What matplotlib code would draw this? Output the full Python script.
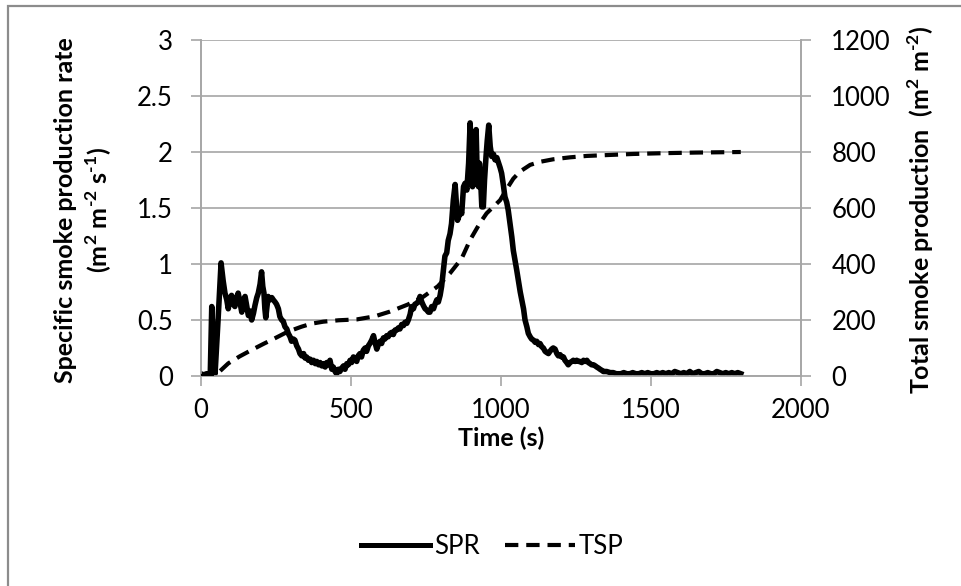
"""Smoke production rate (SPR) and total smoke production (TSP) vs time."""

import matplotlib

matplotlib.use("Agg")
import matplotlib.pyplot as plt
from matplotlib.lines import Line2D
from matplotlib.patches import Rectangle

plt.rcParams["font.family"] = ["Lato", "DejaVu Sans"]
plt.rcParams["mathtext.fontset"] = "custom"
plt.rcParams["mathtext.rm"] = "Lato:bold"
plt.rcParams["mathtext.bf"] = "Lato:bold"

# time (s) and specific smoke production rate (m2 m-2 s-1)
spr_time = [
    0, 10, 20, 32, 37, 42, 48, 58, 68, 75, 81, 87, 92, 98, 103, 109, 114, 120, 125, 131,
    137, 142, 148, 154, 159, 165, 170, 176, 181, 187, 192, 198, 203, 207, 211, 214, 217, 221, 225, 231,
    237, 242, 248, 253, 259, 264, 270, 275, 281, 287, 292, 298, 303, 309, 314, 320, 326, 331, 337, 343,
    348, 353, 359, 365, 370, 376, 382, 387, 393, 398, 404, 409, 415, 420, 426, 431, 437, 442, 448, 453,
    459, 464, 470, 476, 481, 487, 492, 498, 503, 509, 514, 520, 525, 531, 536, 542, 548, 553, 559, 564,
    570, 576, 581, 587, 592, 598, 603, 609, 614, 620, 625, 631, 637, 642, 648, 653, 659, 664, 670, 676,
    681, 687, 692, 698, 703, 709, 714, 720, 725, 731, 737, 742, 748, 753, 759, 764, 770, 776, 781, 787,
    792, 798, 803, 809, 814, 820, 825, 831, 836, 842, 848, 852, 856, 861, 866, 870, 876, 881, 887, 893,
    898, 902, 906, 912, 918, 922, 926, 929, 933, 937, 942, 946, 951, 955, 960, 965, 970, 976, 981, 987,
    992, 998, 1003, 1009, 1014, 1020, 1025, 1031, 1037, 1042, 1048, 1053, 1059, 1065, 1070, 1076, 1081, 1087, 1092, 1098,
    1103, 1109, 1115, 1120, 1126, 1131, 1137, 1142, 1148, 1153, 1159, 1164, 1170, 1175, 1181, 1187, 1192, 1198, 1203, 1209,
    1214, 1220, 1225, 1231, 1237, 1242, 1248, 1253, 1259, 1264, 1270, 1276, 1281, 1287, 1292, 1298, 1303, 1309, 1315, 1320,
    1326, 1331, 1337, 1342, 1348, 1353, 1365, 1375, 1385, 1400, 1410, 1420, 1430, 1440, 1450, 1460, 1470, 1480, 1490, 1500,
    1510, 1520, 1530, 1540, 1550, 1560, 1570, 1580, 1590, 1600, 1610, 1620, 1630, 1640, 1650, 1660, 1670, 1680, 1690, 1700,
    1710, 1720, 1730, 1740, 1750, 1760, 1770, 1780, 1790, 1800,
]
spr_values = [
    0.02, 0.01, 0.02, 0.01, 0.62, 0.30, 0.02, 0.50, 1.01, 0.85, 0.74, 0.68, 0.60, 0.70, 0.72, 0.64, 0.62, 0.70, 0.74, 0.66,
    0.57, 0.68, 0.71, 0.62, 0.54, 0.58, 0.50, 0.56, 0.63, 0.70, 0.74, 0.82, 0.93, 0.80, 0.74, 0.60, 0.52, 0.62, 0.71, 0.68,
    0.70, 0.68, 0.66, 0.64, 0.60, 0.53, 0.50, 0.49, 0.44, 0.42, 0.38, 0.35, 0.31, 0.33, 0.32, 0.27, 0.24, 0.20, 0.18, 0.20,
    0.16, 0.17, 0.14, 0.15, 0.12, 0.14, 0.11, 0.13, 0.10, 0.12, 0.09, 0.11, 0.08, 0.12, 0.10, 0.14, 0.06, 0.08, 0.04, 0.02,
    0.06, 0.04, 0.07, 0.09, 0.06, 0.11, 0.10, 0.14, 0.12, 0.17, 0.15, 0.13, 0.18, 0.20, 0.17, 0.23, 0.25, 0.22, 0.27, 0.29,
    0.32, 0.36, 0.30, 0.24, 0.28, 0.31, 0.29, 0.34, 0.33, 0.36, 0.35, 0.38, 0.39, 0.37, 0.41, 0.41, 0.43, 0.42, 0.46, 0.45,
    0.48, 0.47, 0.50, 0.55, 0.62, 0.60, 0.64, 0.65, 0.66, 0.71, 0.66, 0.63, 0.60, 0.59, 0.57, 0.57, 0.62, 0.60, 0.64, 0.68,
    0.66, 0.72, 0.80, 0.95, 1.07, 1.10, 1.21, 1.27, 1.36, 1.57, 1.71, 1.55, 1.39, 1.43, 1.48, 1.45, 1.69, 1.72, 1.66, 1.90,
    2.26, 2.00, 1.69, 1.90, 2.20, 1.75, 1.69, 1.90, 1.75, 1.51, 1.51, 1.75, 1.96, 2.10, 2.24, 2.05, 1.96, 1.98, 1.93, 1.95,
    1.91, 1.86, 1.81, 1.70, 1.60, 1.55, 1.48, 1.36, 1.24, 1.12, 1.03, 0.95, 0.85, 0.75, 0.68, 0.60, 0.50, 0.44, 0.38, 0.35,
    0.33, 0.32, 0.30, 0.31, 0.28, 0.29, 0.26, 0.25, 0.22, 0.21, 0.20, 0.22, 0.24, 0.25, 0.24, 0.20, 0.18, 0.19, 0.17, 0.17,
    0.14, 0.12, 0.10, 0.12, 0.13, 0.14, 0.13, 0.14, 0.13, 0.13, 0.12, 0.14, 0.13, 0.14, 0.12, 0.11, 0.10, 0.10, 0.09, 0.08,
    0.07, 0.06, 0.05, 0.04, 0.04, 0.04, 0.03, 0.03, 0.02, 0.02, 0.03, 0.02, 0.02, 0.03, 0.02, 0.02, 0.03, 0.02, 0.03, 0.02,
    0.02, 0.03, 0.02, 0.03, 0.02, 0.03, 0.02, 0.04, 0.03, 0.02, 0.03, 0.02, 0.04, 0.02, 0.03, 0.04, 0.02, 0.02, 0.03, 0.02,
    0.02, 0.04, 0.03, 0.02, 0.03, 0.02, 0.03, 0.02, 0.03, 0.02,
]

# time (s) and total smoke production (m2 m-2)
tsp_time = [
    0, 50, 92, 130, 170, 210, 248, 290, 336, 370, 409, 460, 520, 580, 631, 690, 742, 790, 831, 870,
    898, 930, 953, 998, 1020, 1042, 1064, 1098, 1131, 1175, 1231, 1287, 1353, 1442, 1550, 1650, 1800,
]
tsp_values = [
    0, 3, 45, 70, 93, 115, 135, 158, 176, 187, 194, 199, 202, 213, 230, 255, 283, 320, 367, 420,
    486, 545, 581, 628, 668, 705, 730, 754, 765, 774, 781, 786, 789, 793, 796, 798, 800,
]

left_ticks = [0, 0.5, 1, 1.5, 2, 2.5, 3]
left_labels = ["0", "0.5", "1", "1.5", "2", "2.5", "3"]
right_ticks = [0, 200, 400, 600, 800, 1000, 1200]
x_ticks = [0, 500, 1000, 1500, 2000]

grid_color = "#a6a6a6"
tick_size = 18.5
label_size = 18

fig = plt.figure(figsize=(9.61, 5.86), dpi=100)
ax = fig.add_axes([0.2088, 0.3584, 0.6245, 0.5733])
ax2 = ax.twinx()

ax.plot(spr_time, spr_values, color="black", linewidth=4.0, solid_joinstyle="round", zorder=4)
ax2.plot(tsp_time, tsp_values, color="black", linewidth=3.0, linestyle=(0, (3.2, 1.9)), zorder=3)

ax.set_xlim(0, 2000)
ax.set_ylim(0, 3)
ax2.set_ylim(0, 1200)
ax.set_xticks(x_ticks)
ax.set_yticks(left_ticks)
ax.set_yticklabels(left_labels)
ax2.set_yticks(right_ticks)

ax.yaxis.grid(True, color=grid_color, linewidth=1.2)
ax.set_axisbelow(True)
for a in (ax, ax2):
    a.spines["top"].set_visible(False)
    for side in ("left", "right", "bottom"):
        a.spines[side].set_color(grid_color)
        a.spines[side].set_linewidth(1.2)
    a.tick_params(colors=grid_color, labelcolor="black", labelsize=tick_size,
                  length=7, width=1.2, direction="out")
ax.tick_params(axis="y", pad=13)
ax.tick_params(axis="x", pad=9)
ax2.tick_params(axis="y", pad=15)

ax.set_xlabel("Time (s)", fontsize=label_size, fontweight="bold")
ax.xaxis.set_label_coords(0.5, -0.152)
ax.set_ylabel("Specific smoke production rate\n(m$^\\text{2}$ m$^\\text{-2}$ s$^\\text{-1}$)",
              fontsize=label_size, fontweight="bold", linespacing=1.25)
ax.yaxis.set_label_coords(-0.145, 0.494)
ax2.set_ylabel("Total smoke production  (m$^\\text{2}$ m$^\\text{-2}$)",
               fontsize=label_size, fontweight="bold")
ax2.yaxis.set_label_coords(1.174, 0.494)

handles = [
    Line2D([], [], color="black", linewidth=3.6),
    Line2D([], [], color="black", linewidth=3.0, linestyle=(0, (3.2, 1.9))),
]
fig.legend(handles, ["SPR", "TSP"], loc="center", bbox_to_anchor=(0.512, 0.068),
           ncol=2, frameon=False, fontsize=tick_size, handlelength=2.7,
           handletextpad=0.15, columnspacing=1.0)

# outer chart border (top and left visible)
fig.patches.append(Rectangle((0.0083, -0.05), 1.05, 1.0398, transform=fig.transFigure,
                             fill=False, edgecolor="#8c8c8c", linewidth=1.6))

fig.savefig("out.png", dpi=100)
plt.close(fig)
